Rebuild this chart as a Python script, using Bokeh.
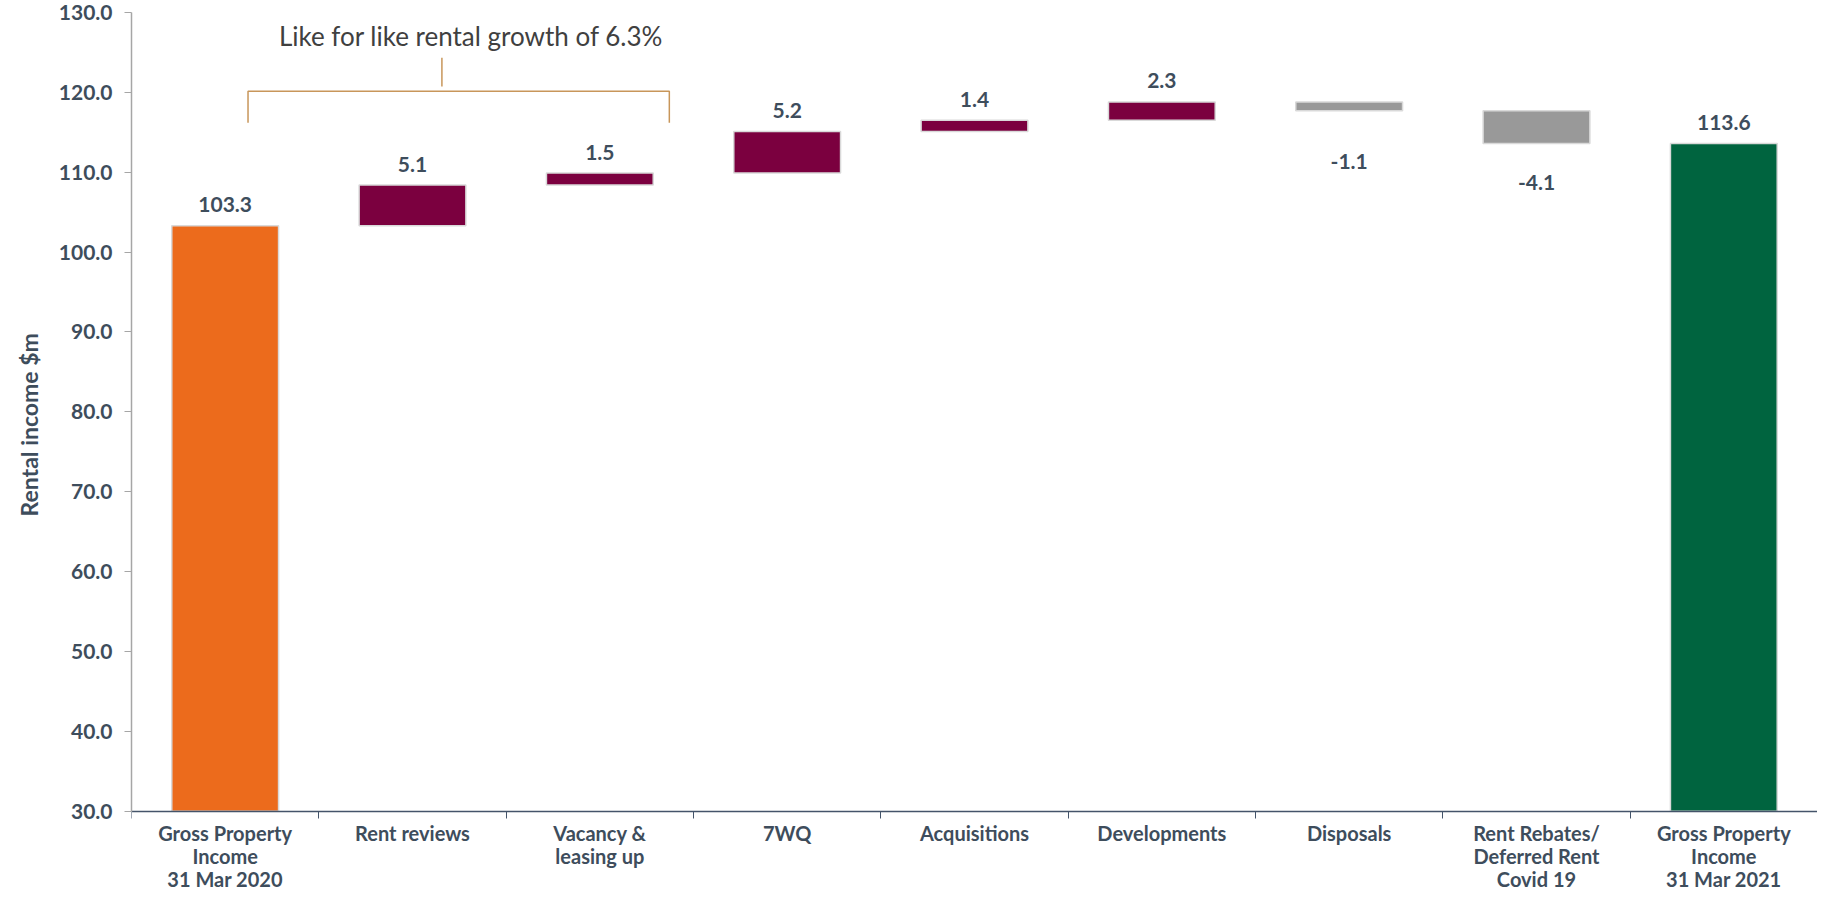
from bokeh.plotting import figure
from bokeh.models import Range1d, FixedTicker, ColumnDataSource, NumeralTickFormatter, Title
from bokeh.core.properties import value
from bokeh.embed import file_html
from bokeh.resources import INLINE

# ---- data ----
categories = ["Gross Property\nIncome\n31 Mar 2020", "Rent reviews", "Vacancy &\nleasing up",
              "7WQ", "Acquisitions", "Developments", "Disposals",
              "Rent Rebates/\nDeferred Rent\nCovid 19", "Gross Property\nIncome\n31 Mar 2021"]
values = [103.3, 5.1, 1.5, 5.2, 1.4, 2.3, -1.1, -4.1, 113.6]
kinds = ["start", "delta", "delta", "delta", "delta", "delta", "delta", "delta", "end"]
y_ticks = [30, 40, 50, 60, 70, 80, 90, 100, 110, 120, 130]
y_title = "Rental income $m"
annotation_text = "Like for like rental growth of 6.3%"

# ---- colours / styles ----
C_START = "#EC6B1C"
C_END = "#00643F"
C_UP = "#7B003F"
C_DOWN = "#999999"
SLATE = "#3E4D5C"
FONT = "Lato"

Y_BASE = y_ticks[0]
Y_LOW = 19.7          # frame extends below the axis so the category names fit inside it

# ---- waterfall geometry from data ----
xs, bottoms, tops, colors, labels, lab_y, lab_off = [], [], [], [], [], [], []
running = 0.0
for i, (v, k) in enumerate(zip(values, kinds)):
    x = i + 0.5
    if k in ("start", "end"):
        b, t = Y_BASE, v
        running = v
        col = C_START if k == "start" else C_END
    else:
        b, t = running, running + v
        running = running + v
        col = C_UP if v >= 0 else C_DOWN
    xs.append(x)
    bottoms.append(min(b, t))
    tops.append(max(b, t))
    colors.append(col)
    labels.append(f"{v:.1f}")
    if v >= 0:
        lab_y.append(max(b, t))
        lab_off.append(-21)
    else:
        lab_y.append((b + t) / 2)
        lab_off.append(55)

src = ColumnDataSource(dict(x=xs, bottom=bottoms, top=tops, color=colors,
                            label=labels, ly=lab_y, off=lab_off))
cat_src = ColumnDataSource(dict(x=xs, y=[Y_BASE] * len(xs), name=categories))

p = figure(width=1817, height=893, output_backend="svg", toolbar_location=None,
           x_range=Range1d(0, len(categories)), y_range=Range1d(Y_LOW, y_ticks[-1]),
           min_border_left=130, min_border_right=0, min_border_top=12, min_border_bottom=0)
p.outline_line_color = None
p.xgrid.grid_line_color = None
p.ygrid.grid_line_color = None
p.background_fill_color = "white"
p.border_fill_color = "white"

p.vbar(x="x", bottom="bottom", top="top", width=0.57, fill_color="color",
       line_color="#D9D9D9", line_width=1.5, source=src)

p.text(x="x", y="ly", text="label", y_offset="off", source=src,
       text_align="center", text_baseline="middle", text_color=SLATE,
       text_font=value(FONT), text_font_style="bold", text_font_size="21px")

# category names under the axis
p.text(x="x", y="y", text="name", y_offset=10, source=cat_src,
       text_align="center", text_baseline="top", text_color=SLATE,
       text_font=value(FONT), text_font_style="bold", text_font_size="20px",
       text_line_height=0.96)

# bracket annotation
BR = "#C8965A"
p.line(x=[0.622, 0.622, 2.871, 2.871], y=[116.2, 120.15, 120.15, 116.2], line_color=BR, line_width=1.5)
p.line(x=[1.657, 1.657], y=[120.75, 124.35], line_color=BR, line_width=1.5)
p.text(x=[1.813], y=[127.0], text=[annotation_text], text_align="center", text_baseline="middle",
       text_color="#404040", text_font=value(FONT), text_font_size="26px")

# x axis at y = 30 with ticks at the category boundaries
xa = p.xaxis[0]
xa.fixed_location = Y_BASE
xa.ticker = FixedTicker(ticks=[], minor_ticks=list(range(len(categories) + 1)))
xa.major_label_text_font_size = "0px"
xa.major_tick_line_color = None
xa.major_tick_out = 0
xa.major_tick_in = 0
xa.minor_tick_in = 0
xa.minor_tick_out = 7
xa.minor_tick_line_color = "#44546A"
xa.axis_line_color = "#44546A"
xa.axis_line_width = 1.5

ya = p.yaxis[0]
ya.bounds = (y_ticks[0], y_ticks[-1])
ya.ticker = FixedTicker(ticks=y_ticks, minor_ticks=[])
ya.formatter = NumeralTickFormatter(format="0.0")
ya.axis_line_color = "#A6A6A6"
ya.axis_line_width = 1.5
ya.major_tick_line_color = "#A6A6A6"
ya.major_tick_in = 0
ya.major_tick_out = 7
ya.major_label_standoff = 12
ya.major_label_text_font = FONT
ya.major_label_text_font_style = "bold"
ya.major_label_text_font_size = "21px"
ya.major_label_text_color = SLATE

p.add_layout(Title(text=y_title, align="left", offset=377, standoff=25,
                   text_font=FONT, text_font_style="bold", text_font_size="23px",
                   text_color=SLATE), "left")

open("out.html", "w").write(file_html(p, INLINE))
